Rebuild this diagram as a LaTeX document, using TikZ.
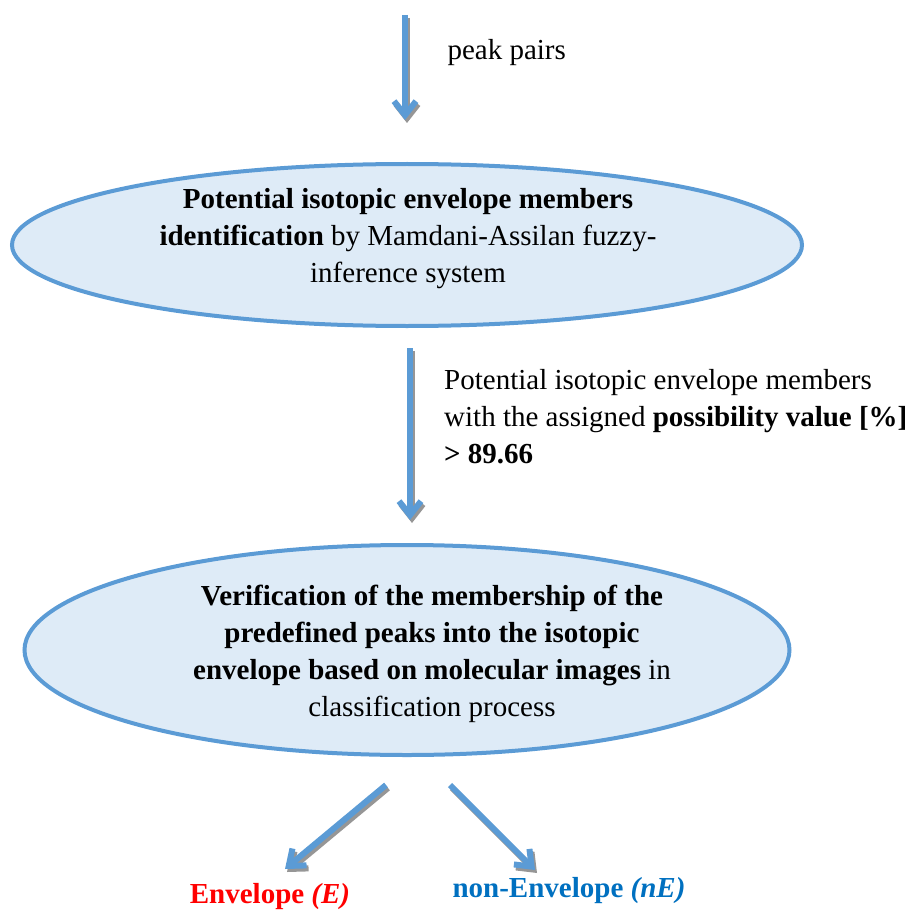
\documentclass[tikz,border=0pt]{standalone}
\usepackage{fontspec}
\setmainfont{Liberation Serif}
\usetikzlibrary{shapes.geometric,arrows.meta}
\definecolor{edgeblue}{RGB}{91,155,213}
\definecolor{fillblue}{RGB}{222,235,247}
\definecolor{nEblue}{RGB}{0,112,192}
\definecolor{shadowgray}{RGB}{150,150,150}
\tikzset{
  bubble/.style={ellipse,draw=edgeblue,fill=fillblue,line width=4pt,align=center,inner sep=0pt},
  flowarrow/.style={draw=edgeblue,line width=6pt,-{Straight Barb[length=14pt,width=22pt,line width=6pt]}},
  flowshadow/.style={draw=shadowgray,line width=6pt,-{Straight Barb[length=14pt,width=22pt,line width=6pt]}},
  txt/.style={font=\fontsize{29}{37}\selectfont}
}
\begin{document}
\begin{tikzpicture}[x=1pt,y=-1pt]
\useasboundingbox (0,0) rectangle (915,912);
\node[bubble,minimum width=790pt,minimum height=162pt] (e1) at (407,245) {};
\node[txt,align=center] (t1) at (408,239)
  {\textbf{Potential isotopic envelope members}\\\textbf{identification} by Mamdani-Assilan fuzzy-\\inference system};
\node[bubble,minimum width=765pt,minimum height=210pt] (e2) at (407,650) {};
\node[txt,align=center] (t2) at (432,654)
  {\textbf{Verification of the membership of the}\\\textbf{predefined peaks into the isotopic}\\\textbf{envelope based on molecular images} in\\classification process};
\coordinate (in) at (405,15);
\coordinate (a1end) at (405,120);
\coordinate (a2start) at (410,348);
\coordinate (a2end) at (410,520);
\coordinate (a3start) at (386,785);
\coordinate (a3end) at (285,869);
\coordinate (a4start) at (450,785);
\coordinate (a4end) at (535,870);
\node[txt,anchor=base west] (lab1) at (444,60) {peak pairs};
\node[txt,anchor=north west,align=left,inner sep=0pt] (lab2) at (444,369)
  {Potential isotopic envelope members\\with the assigned \textbf{possibility value [\%]}\\\textbf{> 89.66}};
\node[txt,anchor=base,text=red] (env) at (270,903) {\textbf{Envelope \textit{(E)}}};
\node[txt,anchor=base,text=nEblue] (nenv) at (569,897) {\textbf{non-Envelope \textit{(nE)}}};
\foreach \s/\e in {in/a1end,a2start/a2end,a3start/a3end,a4start/a4end}{
  \draw[flowshadow] ([shift={(2,3)}]\s) -- ([shift={(2,3)}]\e);
  \draw[flowarrow] (\s) -- (\e);
}
\end{tikzpicture}
\end{document}
